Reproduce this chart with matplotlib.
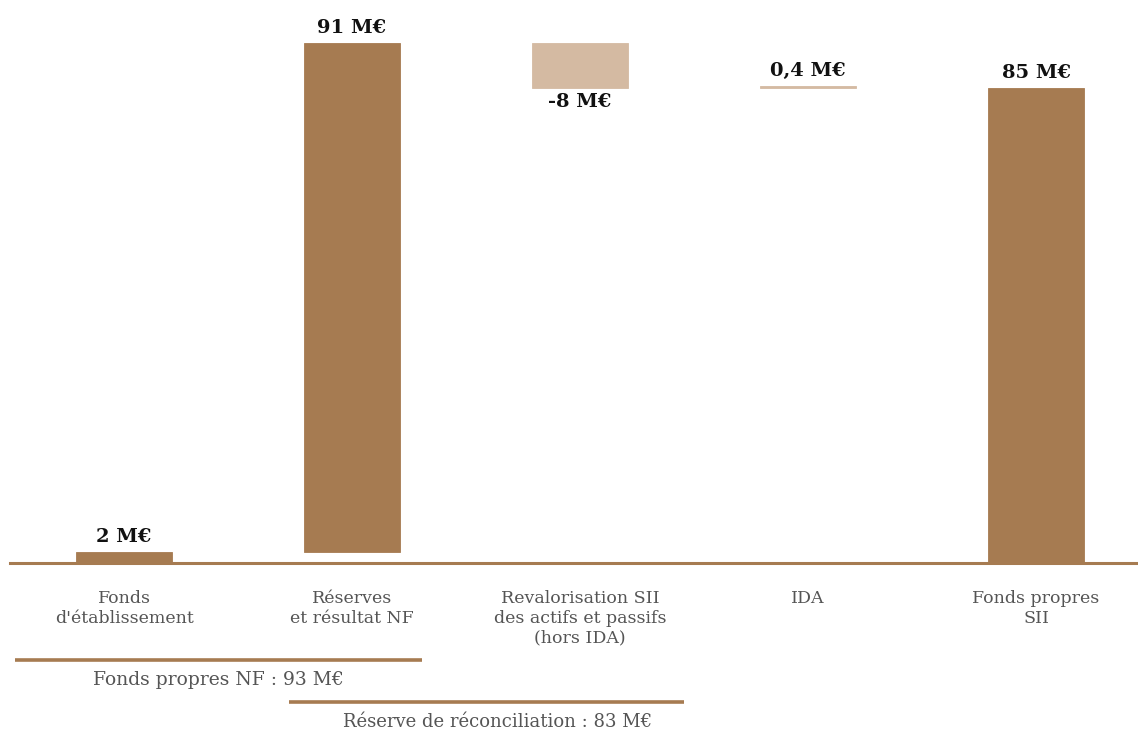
import matplotlib.pyplot as plt
from matplotlib.transforms import blended_transform_factory

# données du pont fonds propres NF -> SII
categories = ["Fonds\nd'établissement", "Réserves\net résultat NF",
              "Revalorisation SII\ndes actifs et passifs\n(hors IDA)", "IDA",
              "Fonds propres\nSII"]
valeurs = [2, 91, -8, 0.4, 85]
etiquettes = ["2 M€", "91 M€", "-8 M€", "0,4 M€", "85 M€"]
type_barre = ["total", "delta", "delta", "delta", "total"]
groupes = ["Fonds propres NF : 93 M€", "Réserve de réconciliation : 83 M€"]

fonce = '#A67B51'
clair = '#D4BAA2'
gris = '#555555'

plt.rcParams['font.family'] = ['DejaVu Serif']

fig = plt.figure(figsize=(11.38, 7.33), dpi=100)
H = 733
ax = fig.add_axes([10 / 1138, (H - 563) / H, 1128 / 1138, 563 / H])
ax.set_xlim(-0.5, 4.447)
ax.set_ylim(0, 100.7)
ax.axis('off')

# bases des barres (cascade)
bases = []
cumul = 0
for v, t in zip(valeurs, type_barre):
    if t == "total" and cumul != 0:
        bases.append(0)
        cumul = v
    elif v >= 0:
        bases.append(cumul)
        cumul += v
    else:
        bases.append(cumul + v)
        cumul += v
hauteurs = [abs(v) for v in valeurs]
couleurs = [fonce if (t == "total" or v > 1) else clair
            for v, t in zip(valeurs, type_barre)]

x = list(range(len(categories)))
ax.bar(x, hauteurs, bottom=bases, width=0.421, color=couleurs,
       edgecolor=couleurs, linewidth=0.6)
ax.axhline(0, color=fonce, lw=2.2, clip_on=False)

for i in x:
    if valeurs[i] < 0:
        ax.text(i, bases[i] - 1.0, etiquettes[i], ha='center', va='top',
                fontsize=14, fontweight='bold', color='#111111')
    else:
        ax.text(i, bases[i] + hauteurs[i] + 1.0, etiquettes[i], ha='center', va='bottom',
                fontsize=14, fontweight='bold', color='#111111')

def fy(py):
    # pixel vertical -> fraction d'axes
    return (563 - py) / 563

tr = blended_transform_factory(ax.transData, ax.transAxes)
for i in x:
    ax.text(i, fy(590), categories[i], ha='center', va='top', fontsize=12.5,
            color=gris, transform=tr, linespacing=1.2)

# accolades de regroupement
ax.plot([-0.478, 1.307], [fy(660), fy(660)], color=fonce, lw=2.6, transform=tr,
        clip_on=False, solid_capstyle='butt')
ax.text(0.415, fy(680), groupes[0], ha='center', va='center', fontsize=13.5,
        color=gris, transform=tr)
ax.plot([0.724, 2.456], [fy(702), fy(702)], color=fonce, lw=2.6, transform=tr,
        clip_on=False, solid_capstyle='butt')
ax.text(1.636, fy(722), groupes[1], ha='center', va='center', fontsize=13,
        color=gris, transform=tr)

fig.savefig('out.png', dpi=100)
